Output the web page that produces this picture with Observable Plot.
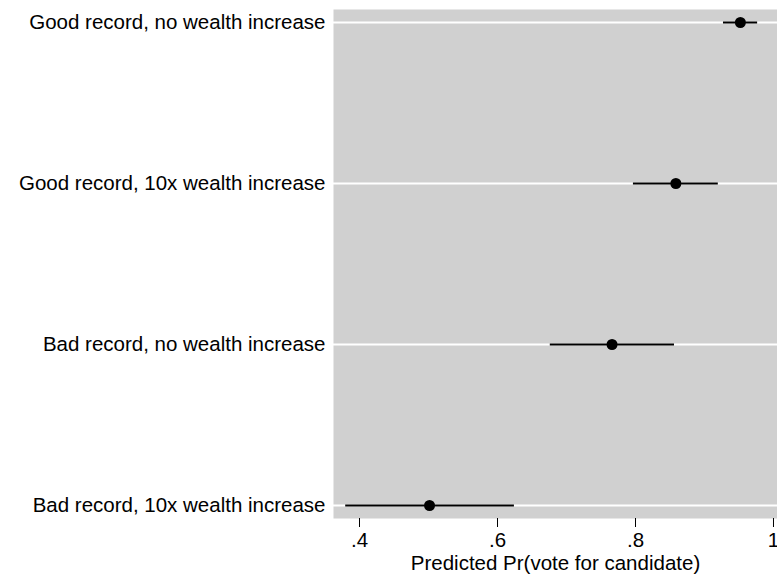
<!DOCTYPE html>
<html>
<head>
<meta charset="utf-8">
<script src="https://cdn.jsdelivr.net/npm/d3@7"></script>
<script src="https://cdn.jsdelivr.net/npm/@observablehq/plot@0.6"></script>
<style>
  body { margin: 0; background: #fff; }
  svg { font-family: Arial, "Liberation Sans", sans-serif; }
</style>
</head>
<body>
<div id="chart"></div>
<script>
const categories = [
  "Good record, no wealth increase",
  "Good record, 10x wealth increase",
  "Bad record, no wealth increase",
  "Bad record, 10x wealth increase"
];
const estimates = [0.952, 0.8585, 0.766, 0.5015];
const lower = [0.9275, 0.797, 0.6765, 0.380];
const upper = [0.977, 0.920, 0.8565, 0.6245];
const xTicks = [0.4, 0.6, 0.8, 1];
const xTickLabels = [".4", ".6", ".8", "1"];
const xTitle = "Predicted Pr(vote for candidate)";

const data = categories.map((c, i) => ({cat: c, est: estimates[i], lo: lower[i], hi: upper[i]}));

const FS = 20.5;
const chart = Plot.plot({
  width: 777,
  height: 575,
  marginLeft: 333,
  marginRight: 0,
  marginTop: 9,
  marginBottom: 57,
  style: {fontSize: FS + "px", fontFamily: "Arial, 'Liberation Sans', sans-serif", color: "#000", background: "#fff"},
  x: {domain: [0.3623, 1.0058], ticks: xTicks, label: null},
  y: {type: "point", domain: categories, padding: 0.08, label: null},
  marks: [
    Plot.frame({fill: "#d0d0d0", stroke: null}),
    Plot.ruleY(categories, {y: d => d, stroke: "white", strokeWidth: 2}),
    Plot.ruleY(data, {y: "cat", x1: "lo", x2: "hi", stroke: "black", strokeWidth: 2}),
    Plot.dot(data, {y: "cat", x: "est", r: 5.5, fill: "black", stroke: null}),
    Plot.axisX({ticks: xTicks, tickFormat: d => xTickLabels[xTicks.indexOf(d)], tickSize: 9, tickPadding: 5, fontSize: FS, label: null}),
    Plot.text([xTitle], {frameAnchor: "bottom", dy: 51, fontSize: FS, fill: "black"}),
    Plot.axisY({tickSize: 0, tickPadding: 8, fontSize: FS, label: null})
  ]
});
document.getElementById("chart").appendChild(chart);
</script>
</body>
</html>
